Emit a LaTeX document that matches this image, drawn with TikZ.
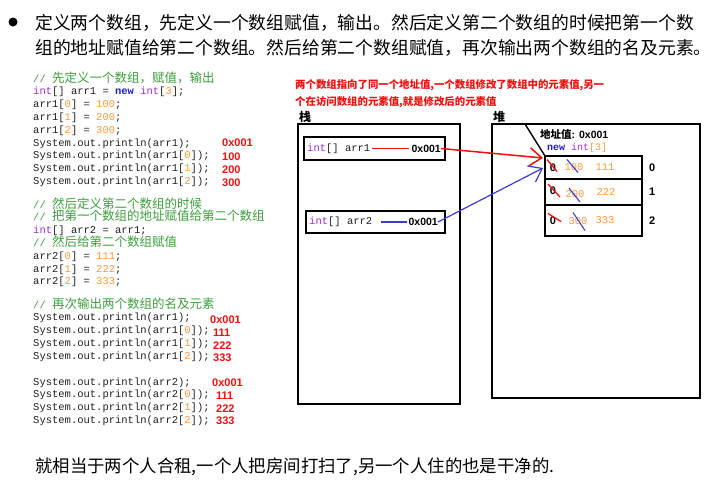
\documentclass[tikz,border=0pt]{standalone}
\usepackage{fontspec}
\setmainfont{Liberation Sans}
\setmonofont{Liberation Mono}
\newfontfamily\cjk{Noto Sans CJK SC}
\usetikzlibrary{arrows.meta,positioning,calc}
\definecolor{Ink}{HTML}{222222}
\definecolor{CodeGreen}{HTML}{3F9F3F}
\definecolor{CodeKw}{HTML}{A030D0}
\definecolor{CodeNew}{HTML}{1E1ED8}
\definecolor{CodeNum}{HTML}{FF9A3C}
\definecolor{OutRed}{HTML}{F01010}
\definecolor{ArrBlue}{HTML}{3C3CD0}
\newcommand{\kw}[1]{\textcolor{CodeKw}{#1}}
\newcommand{\nw}[1]{\textcolor{CodeNew}{\bfseries #1}}
\newcommand{\nm}[1]{\textcolor{CodeNum}{#1}}
\newcommand{\cmt}[1]{{\color{CodeGreen}// {\cjk\fontsize{12.5}{12.8}\selectfont #1}}}
\tikzset{
  code/.style={font=\ttfamily\fontsize{10.5}{12.8}\selectfont,text=Ink,align=left,inner sep=0pt},
  result/.style={font=\fontsize{11}{12}\selectfont\bfseries,text=OutRed,inner sep=0pt},
  para/.style={font=\cjk\fontsize{17.8}{20}\selectfont,text=black,inner sep=0pt},
  note/.style={font=\cjk\bfseries\fontsize{10.4}{12}\selectfont,text=OutRed,inner sep=0pt},
  panel/.style={draw=black,line width=1.6pt,inner sep=0pt,outer sep=0pt},
  cellbox/.style={draw=black,line width=1.8pt,inner sep=0pt,outer sep=0pt,minimum width=97pt},
  addr/.style={font=\fontsize{10.5}{12}\selectfont\bfseries,text=black,inner sep=0pt},
  val/.style={font=\ttfamily\fontsize{10.5}{12}\selectfont,text=CodeNum,inner sep=0pt},
  zero/.style={font=\fontsize{11}{12}\selectfont\bfseries,text=black,inner sep=0pt},
  redarr/.style={-{Straight Barb[length=12pt,width=18pt]},draw=OutRed,line width=1.5pt},
  bluearr/.style={-{Straight Barb[length=12pt,width=18pt]},draw=ArrBlue,line width=1.2pt},
  redx/.style={draw=OutRed,line width=1.3pt},
  bluex/.style={draw=ArrBlue,line width=1.1pt}
}

\begin{document}
\begin{tikzpicture}[x=1pt,y=-1pt]
  \fill[white] (0,0) rectangle (720,480);
  \useasboundingbox (0,0) rectangle (720,480);

  % heading text
  \node[circle,fill=black,inner sep=0pt,minimum size=9pt] (dot) at (13,22) {};
  \node[para,anchor=base west] (line1) at (35,29) {定义两个数组，先定义一个数组赋值，输出。然后定义第二个数组的时候把第一个数};
  \node[para,anchor=base west] (line2) at (35,54) {组的地址赋值给第二个数组。然后给第二个数组赋值，再次输出两个数组的名及元素。};

  % source code (base = last line)
  \node[code,anchor=base west] (code1) at (33,184.4) {\cmt{先定义一个数组，赋值，输出}\\
\kw{int}[] arr1 = \nw{new} \kw{int}[\nm{3}];\\
arr1[\nm{0}] = \nm{100};\\
arr1[\nm{1}] = \nm{200};\\
arr1[\nm{2}] = \nm{300};\\
System.out.println(arr1);\\
System.out.println(arr1[\nm{0}]);\\
System.out.println(arr1[\nm{1}]);\\
System.out.println(arr1[\nm{2}]);};
  \node[code,anchor=base west] (code2) at (33,284.8) {\cmt{然后定义第二个数组的时候}\\
\cmt{把第一个数组的地址赋值给第二个数组}\\
\kw{int}[] arr2 = arr1;\\
\cmt{然后给第二个数组赋值}\\
arr2[\nm{0}] = \nm{111};\\
arr2[\nm{1}] = \nm{222};\\
arr2[\nm{2}] = \nm{333};};
  \node[code,anchor=base west] (code3) at (33,359.2) {\cmt{再次输出两个数组的名及元素}\\
System.out.println(arr1);\\
System.out.println(arr1[\nm{0}]);\\
System.out.println(arr1[\nm{1}]);\\
System.out.println(arr1[\nm{2}]);};
  \node[code,anchor=base west] (code4) at (33,423.4) {System.out.println(arr2);\\
System.out.println(arr2[\nm{0}]);\\
System.out.println(arr2[\nm{1}]);\\
System.out.println(arr2[\nm{2}]);};

  % printed results
  \node[result,anchor=base west] (o1a) at (222,146) {0x001};
  \node[result,anchor=base west] (o1b) at (222,160) {100};
  \node[result,anchor=base west] (o1c) at (222,173) {200};
  \node[result,anchor=base west] (o1d) at (222,186) {300};
  \node[result,anchor=base west] (o2a) at (210,323) {0x001};
  \node[result,anchor=base west] (o2b) at (213,336) {111};
  \node[result,anchor=base west] (o2c) at (213,349) {222};
  \node[result,anchor=base west] (o2d) at (213,361) {333};
  \node[result,anchor=base west] (o3a) at (212,386) {0x001};
  \node[result,anchor=base west] (o3b) at (216,399) {111};
  \node[result,anchor=base west] (o3c) at (216,412) {222};
  \node[result,anchor=base west] (o3d) at (216,424) {333};

  % note
  \node[note,anchor=base west] (note1) at (295,88) {两个数组指向了同一个地址值,一个数组修改了数组中的元素值,另一};
  \node[note,anchor=base west] (note2) at (295,105) {个在访问数组的元素值,就是修改后的元素值};

  % stack
  \node[font=\cjk\bfseries\fontsize{12}{12}\selectfont,anchor=west,inner sep=0pt] (stlabel) at (299,117) {栈};
  \node[panel,anchor=north west,minimum width=162pt,minimum height=280pt] (stack) at (298,124) {};
  \node[panel,anchor=north west,minimum width=141pt,minimum height=23pt] (box1) at (304,137) {};
  \node[code,anchor=west] (name1) at ([xshift=3pt]box1.west) {\kw{int}[] arr1};
  \node[addr,anchor=east] (addr1) at ([xshift=-4pt]box1.east) {0x001};
  \node[panel,anchor=north west,minimum width=139pt,minimum height=22pt] (box2) at (306,211) {};
  \node[code,anchor=west] (name2) at ([xshift=3pt]box2.west) {\kw{int}[] arr2};
  \node[addr,anchor=east] (addr2) at ([xshift=-7pt]box2.east) {0x001};

  % heap
  \node[font=\cjk\bfseries\fontsize{12}{12}\selectfont,anchor=west,inner sep=0pt] (hplabel) at (493,117) {堆};
  \node[panel,anchor=north west,minimum width=208pt,minimum height=274pt] (heap) at (492,124) {};
  \node[addr,anchor=base west] (haddr) at (540,138) {\cjk 地址值\fontspec{Liberation Sans}: 0x001};
  \node[code,anchor=base west,font=\ttfamily\fontsize{10}{12}\selectfont] (hnew) at (547,150) {\nw{new} \kw{int}\nm{[3]}};
  \node[cellbox,anchor=north west,minimum height=23pt] (cell0) at (545,156) {};
  \node[cellbox,below=0pt of cell0,minimum height=26pt] (cell1) {};
  \node[cellbox,below=0pt of cell1,minimum height=31pt] (cell2) {};
  \draw[line width=1.4pt] ($(heap.north west)+(33,0)$) -- (cell0.north west);

  \node[zero] (z0) at ([xshift=8pt]cell0.west) {0};
  \node[val] (p0) at ([xshift=29pt]cell0.west) {100};
  \node[val] (n0) at ([xshift=60pt]cell0.west) {111};
  \node[zero] (z1) at ([xshift=8pt,yshift=1pt]cell1.west) {0};
  \node[val] (p1) at ([xshift=30pt,yshift=-2pt]cell1.west) {200};
  \node[val] (n1) at ([xshift=61pt]cell1.west) {222};
  \node[zero] (z2) at ([xshift=8pt]cell2.west) {0};
  \node[val] (p2) at ([xshift=33pt,yshift=-1pt]cell2.west) {300};
  \node[val] (n2) at ([xshift=60pt]cell2.west) {333};
  \node[zero,right=7pt of cell0] (i0) {0};
  \node[zero,right=7pt of cell1] (i1) {1};
  \node[zero,right=7pt of cell2] (i2) {2};

  % crossed out values
  \draw[redx] ([shift={(-6,-8)}]z0.center) -- ([shift={(4,4)}]z0.center);
  \draw[bluex] ([shift={(-7,-8)}]p0.center) -- ([shift={(4,5)}]p0.center);
  \draw[redx] ([shift={(-5,-7)}]z1.center) -- ([shift={(7,6)}]z1.center);
  \draw[bluex] ([shift={(-6,-6)}]p1.center) -- ([shift={(5,8)}]p1.center);
  \draw[redx] ([shift={(-5,-7)}]z2.center) -- ([shift={(8,1)}]z2.center);
  \draw[bluex] ([shift={(-5,-9)}]p2.center) -- ([shift={(7,9)}]p2.center);

  % references
  \draw[draw=OutRed,line width=1.5pt,shorten <=2pt,shorten >=2pt] (name1) -- (addr1);
  \draw[draw=ArrBlue,line width=1.3pt,shorten <=9pt,shorten >=1pt] (name2) -- (addr2);
  \draw[redarr] (addr1.east) -- ([shift={(-2,2)}]cell0.north west);
  \draw[bluearr] (addr2.east) -- ([shift={(-2,12)}]cell0.north west);

  % closing remark
  \node[para,anchor=base west,font=\cjk\fontsize{17.4}{20}\selectfont] (remark) at (35,472) {就相当于两个人合租,一个人把房间打扫了,另一个人住的也是干净的.};
\end{tikzpicture}
\end{document}
